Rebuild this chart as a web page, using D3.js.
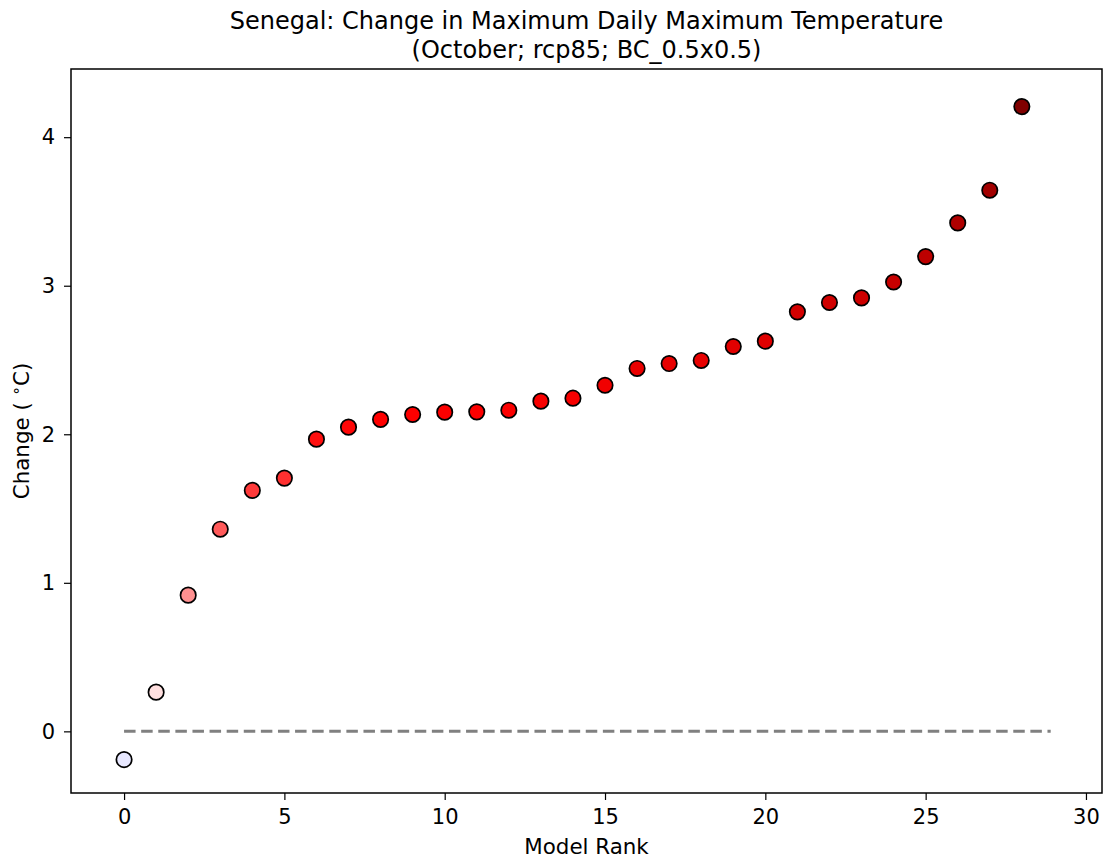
<!DOCTYPE html>
<html>
<head>
<meta charset="utf-8">
<script src="https://cdn.jsdelivr.net/npm/d3@7"></script>
<style>
  html, body { margin: 0; padding: 0; background: #fff; }
  svg { display: block; }
  text { font-family: "DejaVu Sans", sans-serif; fill: #000; }
</style>
</head>
<body>
<svg id="chart" width="1105" height="861"></svg>
<script>
// ---- data ----
const ranks = d3.range(29);
const changes = [-0.19, 0.264, 0.917, 1.361, 1.622, 1.705, 1.967, 2.048, 2.100, 2.133,
                 2.149, 2.151, 2.162, 2.223, 2.243, 2.330, 2.443, 2.476, 2.497, 2.591,
                 2.627, 2.824, 2.887, 2.918, 3.025, 3.196, 3.423, 3.643, 4.206];
const xTicks = [0, 5, 10, 15, 20, 25, 30];
const yTicks = [0, 1, 2, 3, 4];
const titleLines = ["Senegal: Change in Maximum Daily Maximum Temperature", "(October; rcp85; BC_0.5x0.5)"];
const xLabel = "Model Rank";
const refLine = [0, 28.9];

// ---- layout ----
const L = 71, R = 1102, T = 69, B = 793;
const svg = d3.select("#chart");
const x = d3.scaleLinear().domain([-1.655, 30.5]).range([L, R]);
const y = d3.scaleLinear().domain([-0.415, 4.459]).range([B, T]);

// seismic colormap, symmetric around zero
const vmax = d3.max(changes, d => Math.abs(d));
const seismic = d3.scaleLinear()
  .domain([0, 0.25, 0.5, 0.75, 1])
  .range(["rgb(0,0,77)", "rgb(0,0,255)", "rgb(255,255,255)", "rgb(255,0,0)", "rgb(128,0,0)"])
  .interpolate(d3.interpolateRgb);
const color = v => seismic((v + vmax) / (2 * vmax));

// dashed zero line
svg.append("line")
  .attr("x1", x(refLine[0])).attr("x2", x(refLine[1]))
  .attr("y1", y(0)).attr("y2", y(0))
  .attr("stroke", "#808080").attr("stroke-width", 3)
  .attr("stroke-dasharray", "11.5,5.6");

// points
svg.append("g").selectAll("circle")
  .data(ranks)
  .join("circle")
  .attr("cx", i => x(i))
  .attr("cy", i => y(changes[i]))
  .attr("r", 7.7)
  .attr("fill", i => color(changes[i]))
  .attr("stroke", "#000")
  .attr("stroke-width", 1.7);

// frame
svg.append("rect")
  .attr("x", L).attr("y", T).attr("width", R - L).attr("height", B - T)
  .attr("fill", "none").attr("stroke", "#000").attr("stroke-width", 1.5);

// axes
const xAxis = svg.append("g").attr("transform", `translate(0,${B})`)
  .call(d3.axisBottom(x).tickValues(xTicks).tickSize(7).tickPadding(9).tickFormat(d3.format("d")));
const yAxis = svg.append("g").attr("transform", `translate(${L},0)`)
  .call(d3.axisLeft(y).tickValues(yTicks).tickSize(7).tickPadding(9).tickFormat(d3.format("d")));
[xAxis, yAxis].forEach(g => {
  g.select(".domain").remove();
  g.selectAll(".tick line").attr("stroke", "#000").attr("stroke-width", 1.2);
  g.selectAll(".tick text").style("font-family", "'DejaVu Sans', sans-serif").attr("font-size", 21).attr("fill", "#000");
});

// title
const title = svg.append("text").attr("text-anchor", "middle").attr("font-size", 24);
titleLines.forEach((t, i) => {
  title.append("tspan").attr("x", (L + R) / 2).attr("y", 29 + i * 29).text(t);
});

// x label
svg.append("text").attr("x", (L + R) / 2).attr("y", 854)
  .attr("text-anchor", "middle").attr("font-size", 21.4).text(xLabel);

// y label
const yl = svg.append("text")
  .attr("transform", `translate(29,${(T + B) / 2}) rotate(-90)`)
  .attr("text-anchor", "middle").attr("font-size", 21.4);
yl.append("tspan").text("Change ( ");
yl.append("tspan").attr("font-size", 15).attr("dy", -8).text("\u2218");
yl.append("tspan").attr("dy", 8).text("C)");
</script>
</body>
</html>
